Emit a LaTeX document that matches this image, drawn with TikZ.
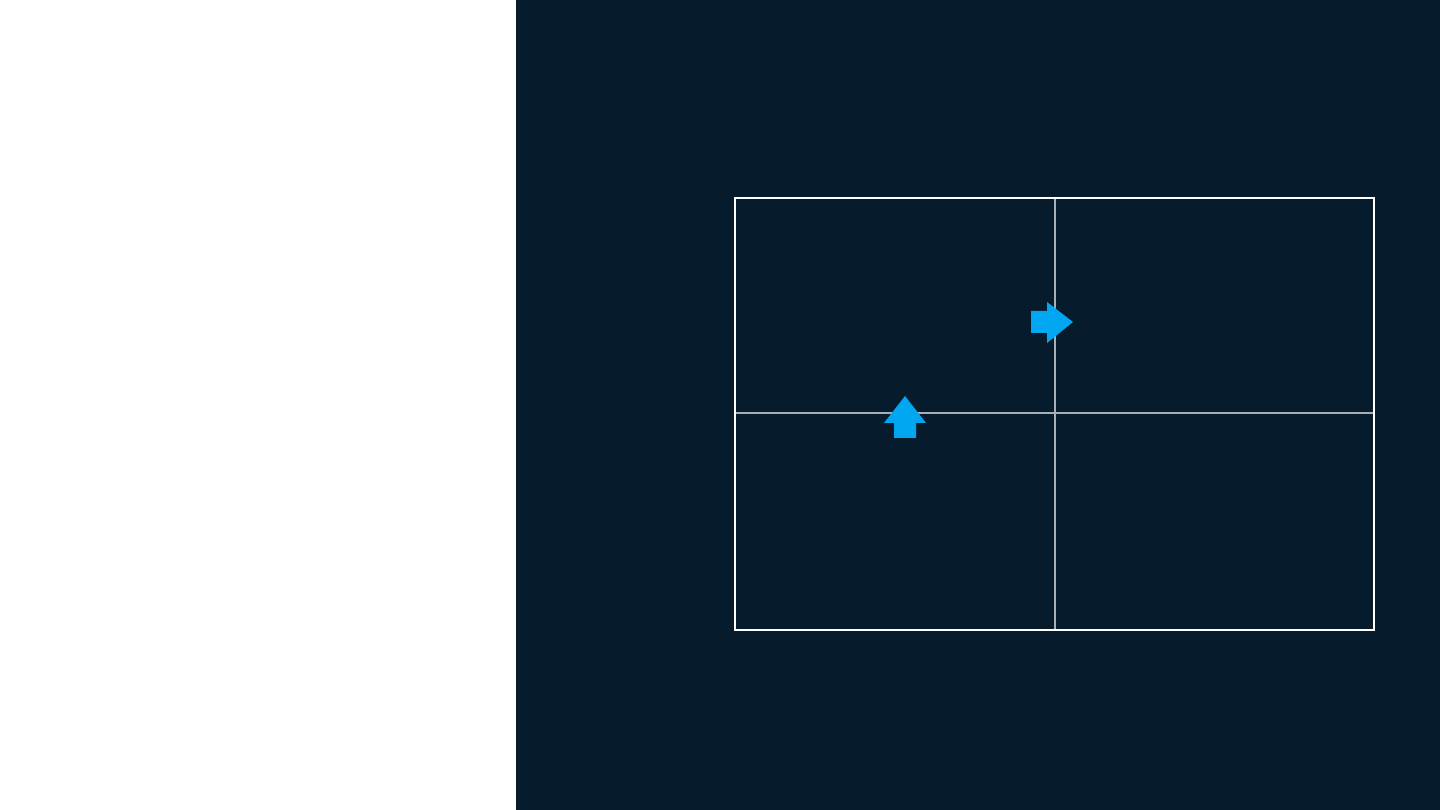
\documentclass[tikz,border=0pt]{standalone}
\usepackage{tikz}
\usetikzlibrary{positioning,calc}
\definecolor{navy}{HTML}{061C2C}
\definecolor{skyblue}{HTML}{00A6F0}
\definecolor{gridgray}{HTML}{A7B0B8}

\begin{document}
\begin{tikzpicture}[x=0.01cm,y=-0.01cm,
	frame/.style={draw=white, line width=0.55pt},
	divider/.style={draw=gridgray, line width=0.4pt},
	pointer/.style={fill=skyblue}]
		\useasboundingbox[fill=white] (0,0) rectangle (1440,810);
		\fill[navy] (516,0) rectangle (1440,810);
		% quadrant box
		\coordinate (tl) at (735,198);
		\coordinate (br) at (1374,630);
		\coordinate (mid) at (1055,413);
		\draw[divider] (mid |- tl) -- (mid |- br);
		\draw[divider] (mid -| tl) -- (mid -| br);
		\draw[frame] (tl) rectangle (br);
		% arrows
		\fill[pointer] (1031,311) -- ++ (16,0) -- ++ (0,-9) -- (1073,322) -- (1047,343) -- ++ (0,-10) -- (1031,333) -- cycle;
		\fill[pointer] (894,438) -- ++ (0,-15) -- ++ (-10,0) -- (905,396) -- (926,423) -- ++ (-10,0) -- (916,438) -- cycle;
		\end{tikzpicture}
\end{document}
